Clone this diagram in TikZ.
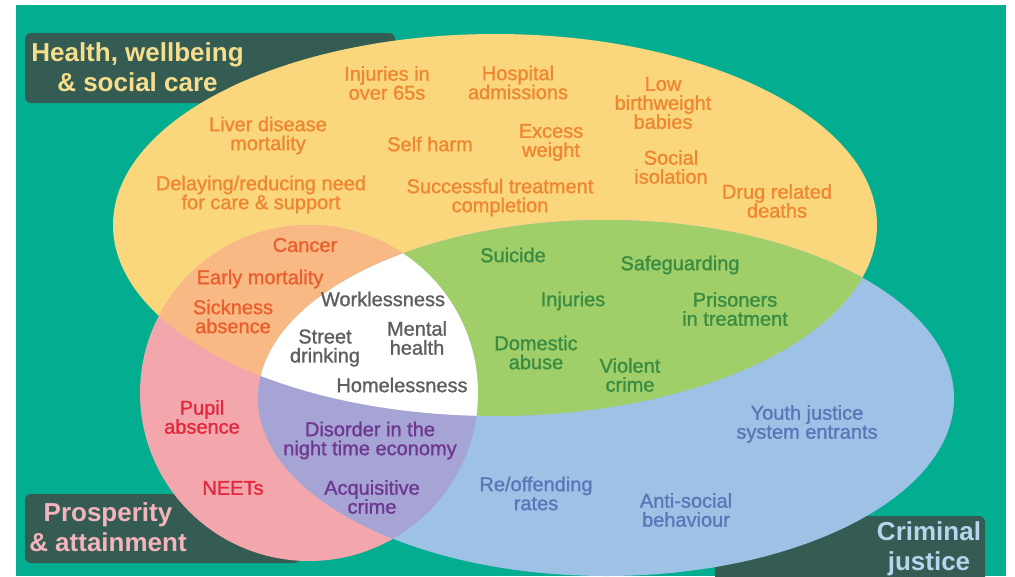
\documentclass[tikz,border=0pt]{standalone}
\usepackage{fontspec}
\setmainfont{Liberation Sans}
% labels are set a touch heavier than the regular face
\newfontfamily\lblfont{Liberation Sans}[FakeBold=1.2]

% fills
\definecolor{bgteal}{RGB}{2,174,143}
\definecolor{tabdark}{RGB}{52,92,82}
\definecolor{fillyellow}{RGB}{250,214,124}
\definecolor{fillorange}{RGB}{248,185,133}
\definecolor{fillpink}{RGB}{243,166,172}
\definecolor{fillgreen}{RGB}{160,206,104}
\definecolor{fillblue}{RGB}{158,194,229}
\definecolor{fillpurple}{RGB}{166,164,212}
% text
\definecolor{txtyellow}{RGB}{239,135,50}
\definecolor{txtorange}{RGB}{233,95,45}
\definecolor{txtwhite}{RGB}{95,95,95}
\definecolor{txtgreen}{RGB}{58,140,66}
\definecolor{txtpink}{RGB}{225,40,60}
\definecolor{txtpurple}{RGB}{110,55,145}
\definecolor{txtblue}{RGB}{90,118,186}
\definecolor{ttlhealth}{RGB}{246,222,140}
\definecolor{ttlprosper}{RGB}{244,180,188}
\definecolor{ttljustice}{RGB}{184,212,238}

% the three sets
\def\sethealth{(495,225) ellipse [x radius=382pt, y radius=191pt]}
\def\setprosper{(309,393) ellipse [x radius=169pt, y radius=168pt]}
\def\setjustice{(606,398) ellipse [x radius=348pt, y radius=178pt]}

\begin{document}
\begin{tikzpicture}[x=1pt,y=-1pt,
  lbl/.style={font=\lblfont\fontsize{20}{19}\selectfont, align=center, inner sep=0pt},
  ttl/.style={font=\bfseries\fontsize{26}{30}\selectfont, align=center, inner sep=0pt},
  tab/.style={fill=tabdark, rounded corners=6pt}]

\useasboundingbox (0,0) rectangle (1015,576);

\begin{scope}
  \clip (16,5) rectangle (1006,576);
  \fill[bgteal] (16,5) rectangle (1006,576);

  % title tabs, partly hidden by the sets
  \fill[tab] (25,33) rectangle (395,103);
  \fill[tab] (25,494) rectangle (300,563);
  \fill[tab] (715,516) rectangle (985,600);

  % single sets
  \fill[fillyellow] \sethealth;
  \fill[fillpink] \setprosper;
  \fill[fillblue] \setjustice;

  % pairwise overlaps
  \begin{scope}
    \clip \sethealth;
    \fill[fillorange] \setprosper;
    \fill[fillgreen] \setjustice;
  \end{scope}
  \begin{scope}
    \clip \setprosper;
    \fill[fillpurple] \setjustice;
  \end{scope}
  % centre
  \begin{scope}
    \clip \sethealth;
    \clip \setprosper;
    \fill[white] \setjustice;
  \end{scope}
\end{scope}

% titles
\node[ttl, text=ttlhealth] (tHealth) at (137.5,67.5) {Health, wellbeing\\\& social care};
\node[ttl, text=ttlprosper] (tProsper) at (108,527.5) {Prosperity\\\& attainment};
\node[ttl, text=ttljustice] (tJustice) at (929,548.7) {Criminal\\justice};

% health only
\begin{scope}[every node/.style={lbl, text=txtyellow}]
  \node (inj65) at (387,83) {Injuries in\\over 65s};
  \node (hosp) at (518,82.5) {Hospital\\admissions};
  \node (lowbw) at (663,103) {Low\\birthweight\\babies};
  \node (liver) at (268,135.5) {Liver disease\\mortality};
  \node (selfharm) at (430,144) {Self harm};
  \node (excess) at (551,142.5) {Excess\\weight};
  \node (social) at (671,167) {Social\\isolation};
  \node (delay) at (261,194.5) {Delaying/reducing need\\for care \& support};
  \node (success) at (500,197.5) {Successful treatment\\completion};
  \node (drug) at (777,201) {Drug related\\deaths};
\end{scope}

% health and prosperity
\begin{scope}[every node/.style={lbl, text=txtorange}]
  \node (cancer) at (305,245) {Cancer};
  \node (early) at (260,279) {Early mortality};
  \node (sick) at (233,316.5) {Sickness\\absence};
\end{scope}

% all three
\begin{scope}[every node/.style={lbl, text=txtwhite}]
  \node (workless) at (383,299) {Worklessness};
  \node (street) at (325,348) {Street\\drinking};
  \node (mental) at (417,338) {Mental\\health};
  \node (homeless) at (402,385) {Homelessness};
\end{scope}

% health and justice
\begin{scope}[every node/.style={lbl, text=txtgreen}]
  \node (suicide) at (513,255) {Suicide};
  \node (safeguard) at (680,265) {Safeguarding};
  \node (injuries) at (573,301) {Injuries};
  \node (prisoners) at (735,309) {Prisoners\\in treatment};
  \node (domestic) at (536,352.5) {Domestic\\abuse};
  \node (violent) at (630,375) {Violent\\crime};
\end{scope}

% prosperity only
\begin{scope}[every node/.style={lbl, text=txtpink}]
  \node (pupil) at (202,417) {Pupil\\absence};
  \node (neets) at (233,488) {NEETs};
\end{scope}

% prosperity and justice
\begin{scope}[every node/.style={lbl, text=txtpurple}]
  \node (disorder) at (370,440.5) {Disorder in the\\night time economy};
  \node (acquis) at (372,497) {Acquisitive\\crime};
\end{scope}

% justice only
\begin{scope}[every node/.style={lbl, text=txtblue}]
  \node (youth) at (807,424) {Youth justice\\system entrants};
  \node (reoff) at (536,493.5) {Re/offending\\rates};
  \node (antisoc) at (686,510) {Anti-social\\behaviour};
\end{scope}

\end{tikzpicture}
\end{document}
